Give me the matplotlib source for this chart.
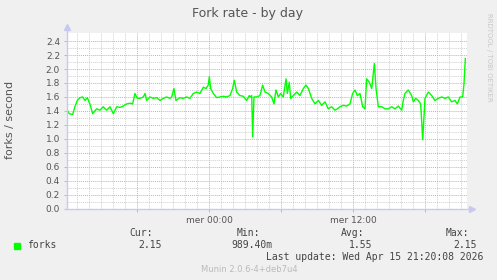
import numpy as np
import matplotlib
matplotlib.use("Agg")
import matplotlib.pyplot as plt

# hours relative to Wed 00:00
times = [-11.86, -11.64, -11.36, -11.17, -10.97, -10.75, -10.53, -10.33, -10.14, -9.92,
         -9.69, -9.36, -9.08, -8.81, -8.53, -8.25, -7.97, -7.69, -7.42, -7.14,
         -6.86, -6.58, -6.36, -6.17, -5.97, -5.75, -5.47, -5.33, -5.19, -4.92,
         -4.64, -4.36, -4.08, -3.81, -3.53, -3.25, -3.11, -2.92, -2.75, -2.42,
         -2.14, -1.86, -1.58, -1.31, -1.03, -0.75, -0.47, -0.25, -0.06, 0.03,
         0.14, 0.36, 0.64, 0.92, 1.19, 1.47, 1.75, 1.97, 2.11, 2.31,
         2.58, 2.86, 3.14, 3.36,
         3.42, 3.56, 3.64, 3.75, 3.97, 4.25, 4.47, 4.67, 4.94, 5.22,
         5.42, 5.58, 5.78, 5.97, 6.19, 6.42, 6.53, 6.69, 6.81, 7.03,
         7.31, 7.58, 7.86, 8.08, 8.28, 8.56, 8.83, 9.11, 9.39, 9.67,
         9.94, 10.22, 10.5, 10.69, 10.92, 11.19, 11.47, 11.75, 11.97, 12.17,
         12.36, 12.58, 12.81, 13.0, 13.14, 13.36, 13.56, 13.78, 13.92, 14.11,
         14.39, 14.67, 14.94, 15.22, 15.5, 15.78, 16.06, 16.19, 16.33, 16.61,
         16.89, 17.03, 17.22, 17.44, 17.64, 17.81, 18.0, 18.28, 18.56, 18.83,
         19.11, 19.39, 19.67, 19.94, 20.22, 20.5, 20.69, 20.92, 21.14, 21.25,
         21.36]
forks = [1.43, 1.36, 1.35, 1.46, 1.55, 1.59, 1.60, 1.55, 1.59, 1.50,
         1.36, 1.43, 1.41, 1.46, 1.41, 1.46, 1.36, 1.46, 1.45, 1.47,
         1.50, 1.51, 1.50, 1.65, 1.58, 1.58, 1.60, 1.65, 1.55, 1.60,
         1.58, 1.59, 1.55, 1.58, 1.60, 1.58, 1.60, 1.72, 1.55, 1.59,
         1.58, 1.60, 1.58, 1.65, 1.67, 1.65, 1.74, 1.72, 1.77, 1.89,
         1.72, 1.65, 1.59, 1.60, 1.61, 1.60, 1.62, 1.72, 1.84, 1.67,
         1.62, 1.61, 1.55, 1.62,
         1.60, 1.62, 1.03, 1.60, 1.60, 1.62, 1.77, 1.67, 1.65, 1.60,
         1.50, 1.70, 1.60, 1.65, 1.60, 1.86, 1.65, 1.81, 1.58, 1.62,
         1.67, 1.62, 1.72, 1.77, 1.72, 1.58, 1.50, 1.55, 1.48, 1.53,
         1.43, 1.46, 1.41, 1.43, 1.46, 1.48, 1.47, 1.50, 1.65, 1.70,
         1.62, 1.65, 1.46, 1.43, 1.86, 1.81, 1.72, 2.08, 1.72, 1.46,
         1.46, 1.43, 1.43, 1.46, 1.43, 1.47, 1.41, 1.55, 1.65, 1.70,
         1.62, 1.53, 1.58, 1.55, 1.50, 0.99, 1.58, 1.67, 1.62, 1.55,
         1.58, 1.60, 1.58, 1.60, 1.53, 1.55, 1.50, 1.60, 1.60, 1.79,
         2.15]

yticks = [0.0, 0.2, 0.4, 0.6, 0.8, 1.0, 1.2, 1.4, 1.6, 1.8, 2.0, 2.2, 2.4]
xticks = [-6, 0, 6, 12, 18]
xtick_labels = ["", "mer 00:00", "", "mer 12:00", ""]

stat_names = ["Cur:", "Min:", "Avg:", "Max:"]
stat_values = ["2.15", "989.40m", "1.55", "2.15"]

W, H = 497, 280
bg = "#f0f0f0"
axis_col = "#c8c8f0"
major_col = "#f0a0a0"
minor_col = "#d0d0d0"
text_col = "#555555"


def fx(x):
    return x / W


def fy(y):
    return 1 - y / H


fig = plt.figure(figsize=(W / 100, H / 100), dpi=100, facecolor=bg)
ax = fig.add_axes([fx(67), fy(208.7), 400 / W, 176 / H])
ax.set_facecolor("white")

ax.plot(times, forks, color="#00ff00", linewidth=1.0, zorder=3)

ax.set_xlim(-11.83, 21.5)
ax.set_ylim(0, 2.52)

ax.set_yticks(yticks)
ax.set_yticklabels([f"{v:.1f}" for v in yticks])
ax.set_yticks(np.arange(0, 2.5, 0.1), minor=True)
ax.set_xticks(xticks)
ax.set_xticklabels(xtick_labels)
ax.set_xticks(np.arange(-11, 22, 1), minor=True)

ax.set_axisbelow(True)
ax.grid(which="minor", color=minor_col, linestyle=(0, (1, 1)), linewidth=0.7)
ax.grid(which="major", color=major_col, linestyle=(0, (1, 1)), linewidth=0.7)

ax.tick_params(which="major", length=2, width=0.7, color=major_col,
               labelsize=6.5, labelcolor=text_col, pad=3)
ax.tick_params(which="minor", length=0)
for s in ax.spines.values():
    s.set_visible(False)

# axis lines with arrow heads
ax.plot([0, 0], [0, 1.03], transform=ax.transAxes, color=axis_col,
        linewidth=1, clip_on=False, zorder=4)
ax.plot([-0.005, 1.012], [0, 0], transform=ax.transAxes, color=axis_col,
        linewidth=1, clip_on=False, zorder=4)
ax.plot([0], [1.03], transform=ax.transAxes, marker="^", color=axis_col,
        markersize=4, clip_on=False, zorder=4)
ax.plot([1.012], [0], transform=ax.transAxes, marker=">", color=axis_col,
        markersize=4, clip_on=False, zorder=4)

fig.text(fx(248), fy(13), "Fork rate - by day", ha="center", va="center",
         fontsize=9, color="#555555")
fig.text(fx(10), fy(120), "forks / second", ha="center", va="center",
         rotation=90, fontsize=8, color=text_col)
fig.text(fx(489), fy(57), "RRDTOOL / TOBI OETIKER", ha="center", va="center",
         rotation=270, fontsize=5, color="#c8c8c8")

mono = "DejaVu Sans Mono"
fig.patches.append(plt.Rectangle((fx(14), fy(248.5)), 6 / W, 6 / H,
                                 transform=fig.transFigure, color="#00ff00"))
fig.text(fx(27), fy(245), "forks", ha="left", va="center",
         family=mono, fontsize=7, color="#444444")
name_right = [153, 260, 364, 469]
value_right = [162, 273, 372, 477]
for name, val, nx, vx in zip(stat_names, stat_values, name_right, value_right):
    fig.text(fx(nx), fy(233), name, ha="right", va="center",
             family=mono, fontsize=7, color="#444444")
    fig.text(fx(vx), fy(245), val, ha="right", va="center",
             family=mono, fontsize=7, color="#444444")
fig.text(fx(483), fy(257.5), "Last update: Wed Apr 15 21:20:08 2026",
         ha="right", va="center", family=mono, fontsize=7, color="#444444")
fig.text(fx(249), fy(269), "Munin 2.0.6-4+deb7u4", ha="center", va="center",
         fontsize=6, color="#bbbbbb")

fig.savefig("out.png", dpi=100, facecolor=bg)
